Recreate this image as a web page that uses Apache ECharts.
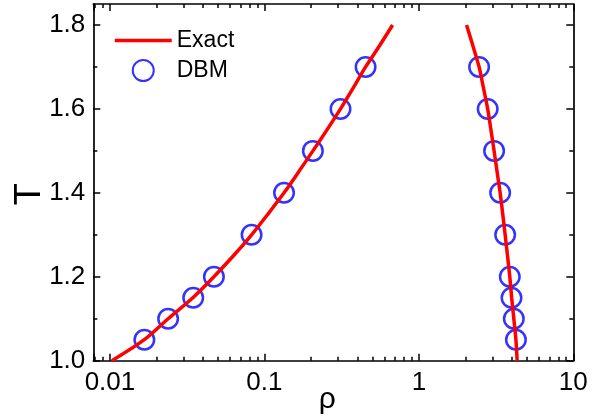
<!DOCTYPE html>
<html>
<head>
<meta charset="utf-8">
<script src="https://cdn.jsdelivr.net/npm/echarts@6/dist/echarts.min.js"></script>
<style>
  html, body { margin: 0; padding: 0; background: #fff; }
  #chart { width: 596px; height: 418px; }
</style>
</head>
<body>
<div id="chart"></div>
<script>
// DBM simulation: coexisting gas / liquid densities at each temperature
const dbmT = [1.05, 1.1, 1.15, 1.2, 1.3, 1.4, 1.5, 1.6, 1.7];
const dbmGas = [0.0167, 0.0238, 0.0346, 0.0471, 0.0826, 0.134, 0.206, 0.311, 0.452];
const dbmLiquid = [4.25, 4.12, 3.98, 3.88, 3.62, 3.36, 3.07, 2.79, 2.455];

// Exact coexistence curve, gas and liquid branches
const exactT = [1.0, 1.05, 1.1, 1.15, 1.2, 1.25, 1.3, 1.35, 1.4, 1.45, 1.5, 1.55, 1.6, 1.65, 1.7, 1.75, 1.8];
const exactGas = [0.0103, 0.0167, 0.0238, 0.0344, 0.0471, 0.063, 0.0826, 0.1057, 0.134, 0.1667, 0.206, 0.254, 0.311, 0.376, 0.452, 0.555, 0.676];
const exactLiquid = [4.33, 4.25, 4.12, 3.99, 3.88, 3.75, 3.62, 3.49, 3.36, 3.21, 3.07, 2.93, 2.79, 2.62, 2.455, 2.24, 2.036];

// Axis ticks
const xMajorTicks = [0.01, 0.1, 1, 10];
const xTickLabels = ['0.01', '0.1', '1', '10'];
const xMinorTicks = [0.008, 0.009,
  0.02, 0.03, 0.04, 0.05, 0.06, 0.07, 0.08, 0.09,
  0.2, 0.3, 0.4, 0.5, 0.6, 0.7, 0.8, 0.9,
  2, 3, 4, 5, 6, 7, 8, 9];
const yMajorTicks = [1.0, 1.2, 1.4, 1.6, 1.8];
const yTickLabels = ['1.0', '1.2', '1.4', '1.6', '1.8'];
const yMinorTicks = [1.1, 1.3, 1.5, 1.7];

const X_MIN = 0.0078, X_MAX = 10, Y_MIN = 1.0, Y_MAX = 1.85;
const FONT = 'Liberation Sans, Arial, sans-serif';
const INK = '#000';
const RED = '#ff0000';
const BLUE = '#0000ff';

const pair = (xs, ys) => xs.map((x, i) => [x, ys[i]]);

const rect = { left: 93.3, right: 22.7, top: 4, bottom: 57.3, containLabel: false, outerBoundsMode: 'none' };

function xAxisDef(gridIndex, position, opts) {
  return Object.assign({
    type: 'log', logBase: 10, gridIndex, position,
    min: X_MIN, max: X_MAX,
    axisLine: { show: true, lineStyle: { color: INK, width: 1.7 } },
    axisTick: { show: true, inside: true, length: 7, lineStyle: { color: INK, width: 1.5 } },
    axisLabel: { show: false },
    splitLine: { show: false },
    minorTick: { show: false }
  }, opts);
}
function yAxisDef(gridIndex, position, opts) {
  return Object.assign({
    type: 'value', gridIndex, position,
    min: Y_MIN, max: Y_MAX,
    axisLine: { show: true, lineStyle: { color: INK, width: 1.7 } },
    axisTick: { show: true, inside: true, length: 7, lineStyle: { color: INK, width: 1.5 }, customValues: yMajorTicks },
    axisLabel: { show: false },
    splitLine: { show: false }
  }, opts);
}
const minorTick = (vals) => ({ show: true, inside: true, length: 4, lineStyle: { color: INK, width: 1.5 }, customValues: vals });

const chart = echarts.init(document.getElementById('chart'), null, { renderer: 'canvas' });

chart.setOption({
  animation: false,
  backgroundColor: '#fff',
  grid: [Object.assign({}, rect), Object.assign({}, rect)],
  legend: {
    orient: 'vertical',
    left: 108, top: 24,
    itemWidth: 57, itemHeight: 21, itemGap: 7,
    lineStyle: { width: 3.5 },
    textStyle: { fontFamily: FONT, fontSize: 23, color: INK },
    data: [
      { name: 'Exact', itemStyle: { opacity: 0 } },
      { name: 'DBM' }
    ]
  },
  xAxis: [
    xAxisDef(0, 'bottom', {
      name: 'ρ', nameLocation: 'middle', nameGap: 24, nameMoveOverlap: false,
      nameTextStyle: { fontFamily: FONT, fontSize: 30, color: INK, padding: [0, 12, 0, 0] },
      axisLabel: {
        show: true, margin: 9, fontFamily: FONT, fontSize: 26, color: INK,
        formatter: (v) => {
          const i = xMajorTicks.findIndex(t => Math.abs(Math.log10(v) - Math.log10(t)) < 1e-6);
          return i >= 0 ? xTickLabels[i] : '';
        }
      }
    }),
    xAxisDef(0, 'top', {}),
    xAxisDef(1, 'bottom', { axisLine: { show: false }, axisTick: minorTick(xMinorTicks) }),
    xAxisDef(1, 'top', { axisLine: { show: false }, axisTick: minorTick(xMinorTicks) })
  ],
  yAxis: [
    yAxisDef(0, 'left', {
      name: 'T', nameLocation: 'middle', nameGap: 45, nameMoveOverlap: false,
      nameTextStyle: { fontFamily: FONT, fontSize: 36, color: INK, padding: [0, 24, 0, 0] },
      axisLabel: {
        show: true, margin: 8, fontFamily: FONT, fontSize: 26, color: INK,
        customValues: yMajorTicks,
        formatter: (v) => {
          const i = yMajorTicks.findIndex(t => Math.abs(v - t) < 1e-6);
          return i >= 0 ? yTickLabels[i] : '';
        }
      }
    }),
    yAxisDef(0, 'right', {}),
    yAxisDef(1, 'left', { axisLine: { show: false }, axisTick: minorTick(yMinorTicks) }),
    yAxisDef(1, 'right', { axisLine: { show: false }, axisTick: minorTick(yMinorTicks) })
  ],
  series: [
    {
      name: 'DBM', type: 'scatter', xAxisIndex: 0, yAxisIndex: 0, z: 2,
      symbol: 'circle', symbolSize: 19.5,
      itemStyle: { color: 'rgba(0,0,0,0)', borderColor: BLUE, borderWidth: 2.5 },
      data: pair(dbmGas, dbmT).concat(pair(dbmLiquid, dbmT))
    },
    {
      name: 'Exact', type: 'line', xAxisIndex: 0, yAxisIndex: 0, z: 3,
      symbol: 'none', smooth: 0.3, color: RED,
      lineStyle: { color: RED, width: 3.5 },
      data: pair(exactGas, exactT)
    },
    {
      name: 'Exact', type: 'line', xAxisIndex: 0, yAxisIndex: 0, z: 3,
      symbol: 'none', smooth: 0.3, color: RED,
      lineStyle: { color: RED, width: 3.5 },
      data: pair(exactLiquid, exactT)
    }
  ]
});
</script>
</body>
</html>
